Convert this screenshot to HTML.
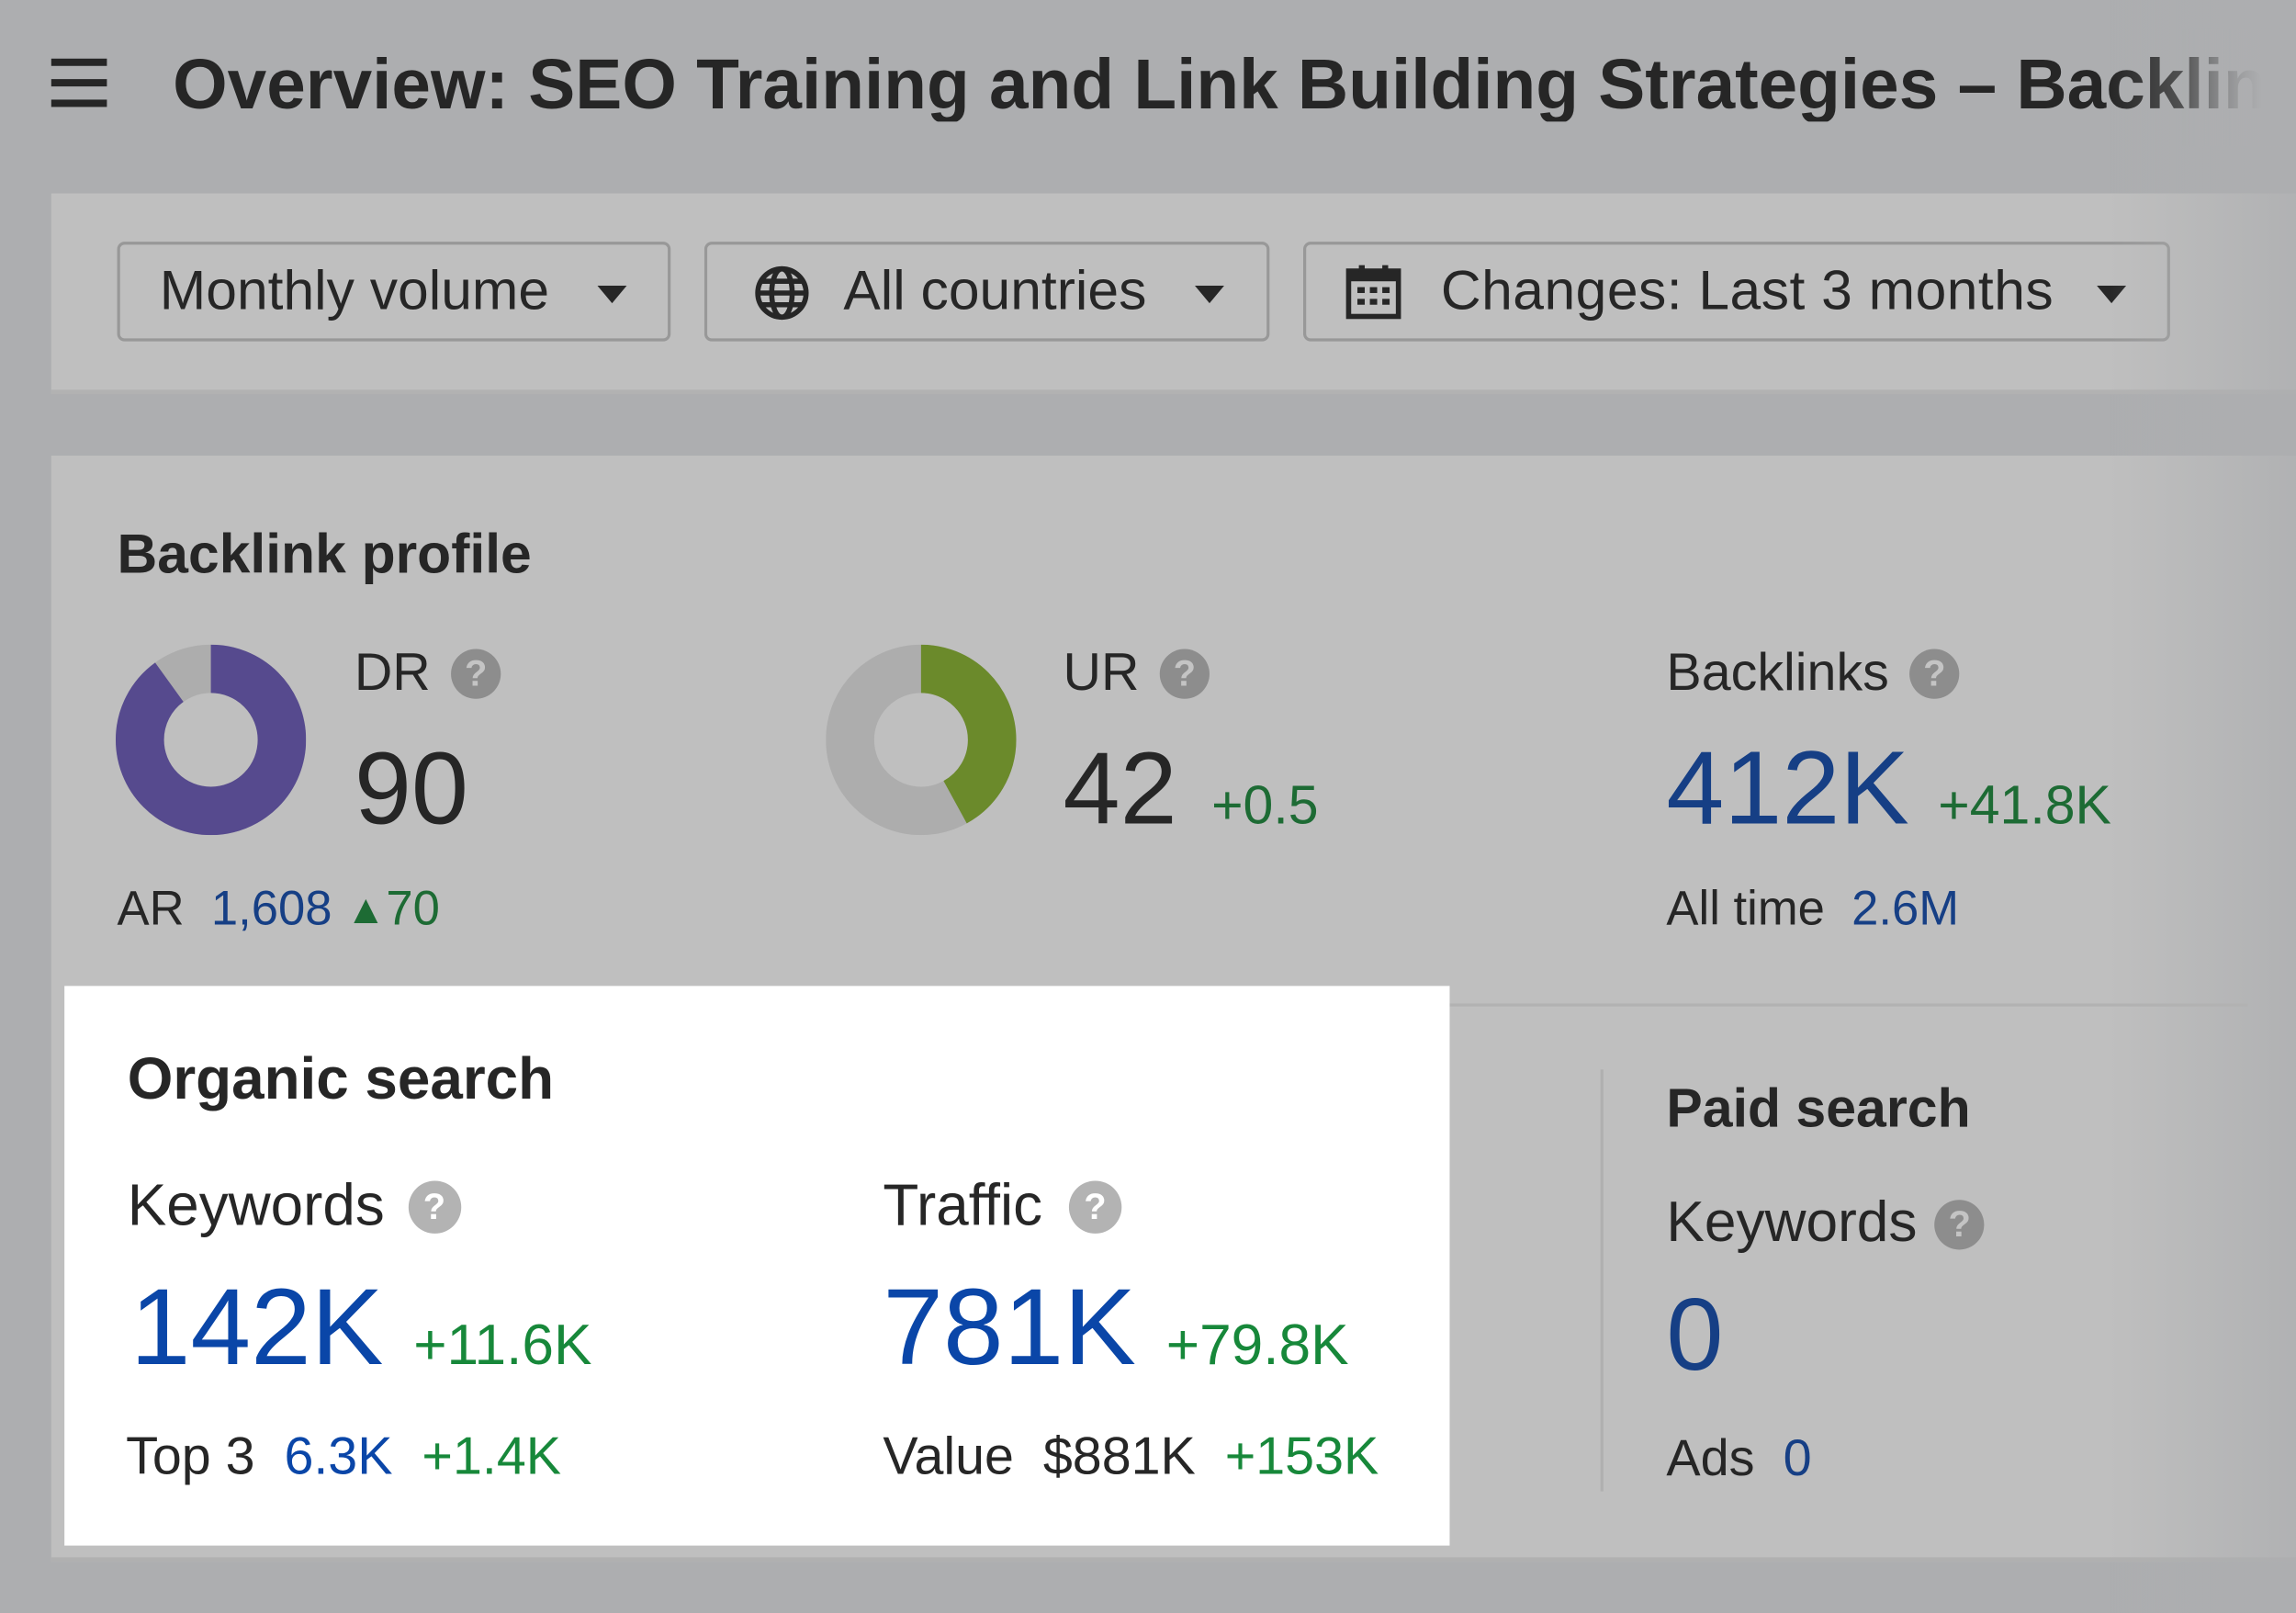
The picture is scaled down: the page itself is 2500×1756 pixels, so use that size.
<!DOCTYPE html>
<html><head><meta charset="utf-8"><style>
html,body{margin:0;padding:0;width:2500px;height:1756px;overflow:hidden;background:#adaeb0}
#s{position:absolute;left:0;top:0;width:1568px;height:1101px;transform:scale(1.5944,1.5949);transform-origin:0 0;font-family:"Liberation Sans",Arial,sans-serif;color:#262626}
.t{position:absolute;line-height:1;white-space:nowrap}
.b{font-weight:bold}
.bl{color:#163f85}.gr{color:#1d6b34}
.w .bl{color:#0a46a8}.w .gr{color:#17883a}
.q{display:inline-block;width:34px;height:34px;border-radius:50%;background:#8d8d8d;color:#c4c4c4;font-weight:bold;font-size:25px;line-height:34px;text-align:center;vertical-align:middle;position:relative;top:-1px;margin-left:14px}
.w .q{background:#b3b3b3;color:#fff}
.btn{position:absolute;top:165px;height:68px;border:2px solid #989898;border-radius:5px;box-sizing:border-box}
.arr{position:absolute;width:0;height:0;border-left:10px solid transparent;border-right:10px solid transparent;border-top:12px solid #262626}
</style></head><body><div id="s">
<div style="position:absolute;left:35px;top:40px;width:38px;height:5px;background:#262626"></div>
<div style="position:absolute;left:35px;top:54px;width:38px;height:5px;background:#262626"></div>
<div style="position:absolute;left:35px;top:68px;width:38px;height:5px;background:#262626"></div>
<div class="t b" style="left:118px;top:35px;font-size:48px;letter-spacing:0px;width:1432px;overflow:hidden">Overview: SEO Training and Link Building Strategies – Backlinko</div>
<div style="position:absolute;left:1490px;top:20px;width:78px;height:80px;background:linear-gradient(90deg,rgba(173,174,176,0),#adaeb0 70%)"></div>

<div style="position:absolute;left:35px;top:132px;width:1533px;height:134px;background:#bfbfbf;border-bottom:3px solid #b2b2b2"></div>
<div class="btn" style="left:80px;width:378px"></div>
<div class="t" style="left:109px;top:180px;font-size:38px">Monthly volume</div>
<div class="arr" style="left:408px;top:195px"></div>
<div class="btn" style="left:481px;width:386px"></div>
<svg style="position:absolute;left:515px;top:181px" width="38" height="38" viewBox="0 0 38 38"><g fill="none" stroke="#262626" stroke-width="3.5"><circle cx="19" cy="19" r="16.5"/><ellipse cx="19" cy="19" rx="7" ry="16.5"/><line x1="2.5" y1="19" x2="35.5" y2="19"/><line x1="5" y1="11" x2="33" y2="11"/><line x1="5" y1="27" x2="33" y2="27"/></g></svg>
<div class="t" style="left:576px;top:180px;font-size:38px">All countries</div>
<div class="arr" style="left:816px;top:195px"></div>
<div class="btn" style="left:890px;width:592px"></div>
<svg style="position:absolute;left:919px;top:180px" width="38" height="38" viewBox="0 0 38 38"><rect x="2" y="5" width="34" height="31" fill="none" stroke="#262626" stroke-width="3.5"/><rect x="2" y="5" width="34" height="7" fill="#262626"/><rect x="9" y="1" width="4" height="7" fill="#262626"/><rect x="25" y="1" width="4" height="7" fill="#262626"/><g fill="#262626"><rect x="8" y="16" width="5" height="4"/><rect x="16.5" y="16" width="5" height="4"/><rect x="25" y="16" width="5" height="4"/><rect x="8" y="24" width="5" height="4"/><rect x="16.5" y="24" width="5" height="4"/><rect x="25" y="24" width="5" height="4"/></g></svg>
<div class="t" style="left:984px;top:180px;font-size:38px;letter-spacing:0.3px">Changes: Last 3 months</div>
<div class="arr" style="left:1432px;top:195px"></div>

<div style="position:absolute;left:35px;top:311px;width:1533px;height:752px;background:#bfbfbf;border-bottom:3px solid #b0b0b0"></div>
<div style="position:absolute;left:1440px;top:0;width:128px;height:1101px;background:linear-gradient(90deg,rgba(173,174,176,0),rgba(173,174,176,0.8))"></div>

<div class="t b" style="left:80px;top:360px;font-size:38px">Backlink profile</div>
<svg style="position:absolute;left:79px;top:440px" width="130" height="130" viewBox="0 0 130 130"><circle cx="65" cy="65" r="48.5" fill="none" stroke="#adadad" stroke-width="33"/><circle cx="65" cy="65" r="48.5" fill="none" stroke="#564a8e" stroke-width="33" stroke-dasharray="274.3 304.7" transform="rotate(-90 65 65)"/></svg>
<div class="t" style="left:242px;top:441px;font-size:36px">DR<span class="q">?</span></div>
<div class="t" style="left:242px;top:503px;font-size:70px">90</div>
<div class="t" style="left:80px;top:603px;font-size:33px">AR&nbsp; <span class="bl">1,608</span>&nbsp;<span class="gr"><span style="font-size:28px;position:relative;top:-1px">▲</span>70</span></div>

<svg style="position:absolute;left:564px;top:440px" width="130" height="130" viewBox="0 0 130 130"><circle cx="65" cy="65" r="48.5" fill="none" stroke="#adadad" stroke-width="33"/><circle cx="65" cy="65" r="48.5" fill="none" stroke="#6b8a2b" stroke-width="33" stroke-dasharray="128 304.7" transform="rotate(-90 65 65)"/></svg>
<div class="t" style="left:726px;top:441px;font-size:36px">UR<span class="q">?</span></div>
<div class="t" style="left:726px;top:503px;font-size:70px">42&nbsp;<span class="gr" style="font-size:37px;margin-left:4px">+0.5</span></div>

<div class="t" style="left:1138px;top:441px;font-size:36px">Backlinks<span class="q" style="margin-left:14px">?</span></div>
<div class="t bl" style="left:1138px;top:503px;font-size:71px">412K <span class="gr" style="font-size:37px">+41.8K</span></div>
<div class="t" style="left:1138px;top:603px;font-size:33px">All time&nbsp; <span class="bl">2.6M</span></div>

<div style="position:absolute;left:990px;top:685px;width:545px;height:2px;background:#b2b2b2"></div>
<div style="position:absolute;left:1093px;top:730px;width:2px;height:288px;background:#b0b0b0"></div>
<div class="t b" style="left:1138px;top:738px;font-size:37px">Paid search</div>
<div class="t" style="left:1138px;top:815px;font-size:39px">Keywords<span class="q" style="margin-left:12px">?</span></div>
<div class="t bl" style="left:1138px;top:876px;font-size:70px">0</div>
<div class="t" style="left:1138px;top:978px;font-size:35px">Ads&nbsp; <span class="bl">0</span></div>

<div class="w" style="position:absolute;left:44px;top:673px;width:946px;height:382px;background:#fff">
<div class="t b" style="left:43px;top:44px;font-size:40px">Organic search</div>
<div class="t" style="left:43px;top:130px;font-size:40px">Keywords<span class="q" style="width:36px;height:36px;line-height:36px;margin-left:16px">?</span></div>
<div class="t bl" style="left:45px;top:196px;font-size:74px">142K <span class="gr" style="font-size:39px">+11.6K</span></div>
<div class="t" style="left:42px;top:303px;font-size:36px">Top 3&nbsp; <span class="bl">6.3K</span>&nbsp; <span class="gr">+1.4K</span></div>
<div class="t" style="left:559px;top:130px;font-size:40px">Traffic<span class="q" style="width:36px;height:36px;line-height:36px;margin-left:18px">?</span></div>
<div class="t bl" style="left:559px;top:196px;font-size:74px">781K <span class="gr" style="font-size:39px">+79.8K</span></div>
<div class="t" style="left:559px;top:303px;font-size:36px">Value&nbsp; $881K&nbsp; <span class="gr">+153K</span></div>
</div>
</div></body></html>
